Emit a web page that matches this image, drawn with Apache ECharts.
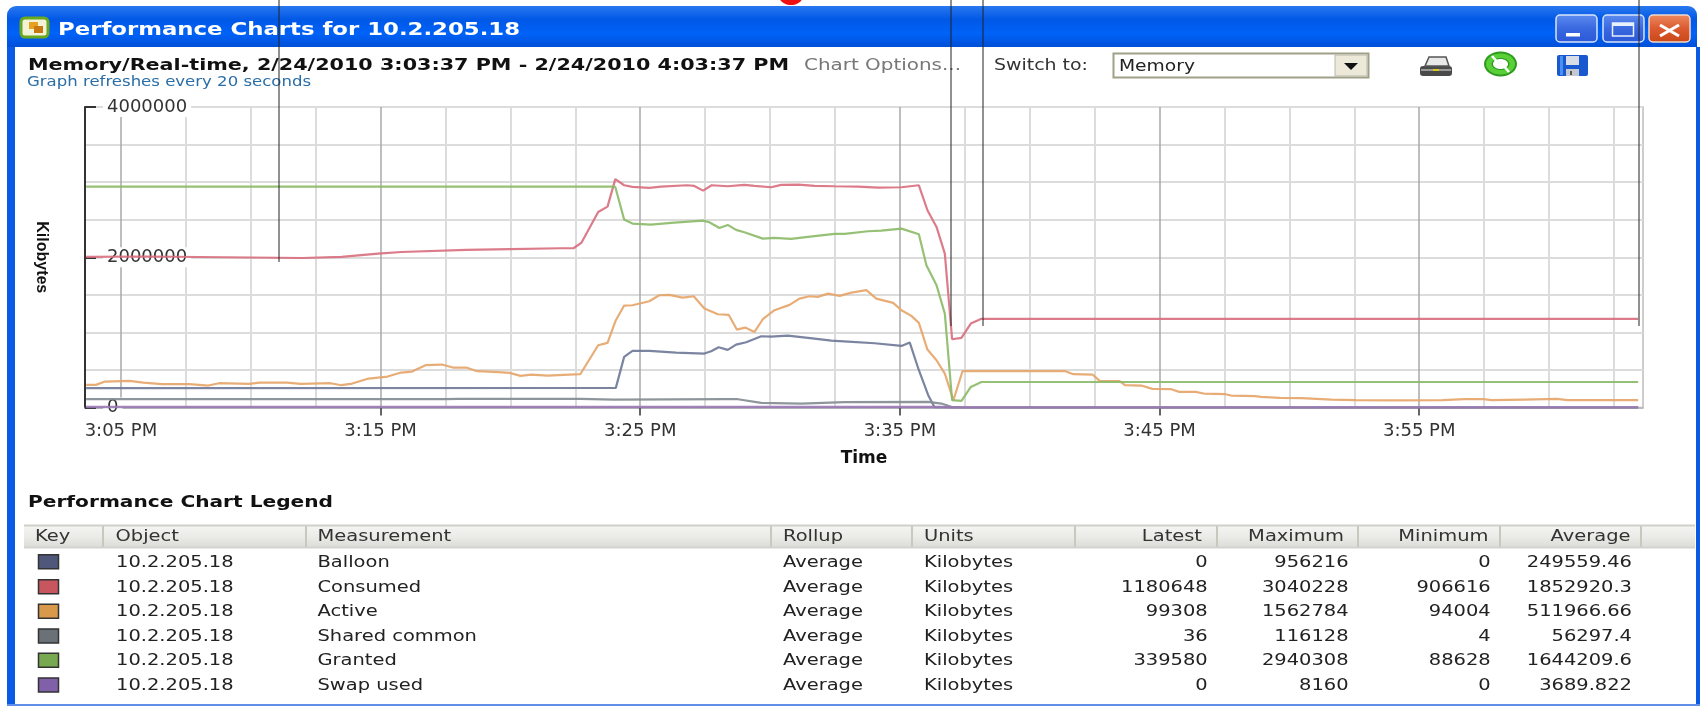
<!DOCTYPE html>
<html>
<head>
<meta charset="utf-8">
<title>Performance Charts</title>
<style>
    html, body { margin: 0; padding: 0; background: #fff; }
    #chart { width: 1700px; height: 706px; }
</style>
<script src="https://cdn.jsdelivr.net/npm/echarts@6/dist/echarts.min.js"></script>
</head>
<body>
<div id="chart"></div>
<script>
// x values are minutes after 3:00 PM, y values are kilobytes
const balloon = [[3.66, 256700], [24.06, 261000], [24.38, 673600], [24.7, 753400], [25.35, 753400], [26.38, 731200], [27.47, 717900], [27.73, 749000], [28.02, 802200], [28.37, 766700], [28.69, 837700], [29.08, 868700], [29.66, 948600], [30.04, 944200], [30.68, 956216], [31.46, 926400], [32.36, 890900], [33, 877600], [34.03, 855400], [35.06, 819900], [35.38, 864300], [35.73, 496100], [36.09, 163500], [36.34, 0], [63.43, 0]];
const consumed = [[3.66, 2004000], [6, 2010000], [9, 2000000], [12, 1990000], [13.5, 2005000], [14.9, 2049000], [15.8, 2070000], [18.3, 2097000], [20, 2108000], [21.94, 2119700], [22.43, 2119700], [22.74, 2195100], [23.38, 2603200], [23.74, 2674200], [24.04, 3040228], [24.38, 2958100], [24.7, 2935900], [25.35, 2922600], [25.8, 2940400], [26.8, 2958100], [27.08, 2949200], [27.42, 2887100], [27.75, 2958100], [28.37, 2944800], [29.01, 2962500], [29.4, 2949200], [30.04, 2931500], [30.43, 2962500], [31.1, 2967000], [31.71, 2949200], [32.48, 2944800], [33.38, 2940400], [34.16, 2927000], [35.06, 2931500], [35.73, 2958100], [36.06, 2625400], [36.41, 2403600], [36.73, 2048700], [37.01, 908600], [37.37, 926400], [37.73, 1117200], [38.14, 1180648], [63.43, 1180648]];
const active = [[3.66, 301100], [4.04, 301100], [4.39, 345500], [5.33, 354300], [5.86, 332100], [6.59, 310000], [7.63, 310000], [8.37, 292200], [8.78, 323300], [9.94, 314400], [10.35, 332100], [11.4, 332100], [11.92, 314400], [13.07, 323300], [13.49, 296700], [13.91, 318800], [14.54, 385400], [15.27, 412000], [15.79, 465200], [16.21, 478500], [16.73, 562800], [17.36, 571700], [17.78, 531800], [18.3, 531800], [18.72, 483000], [19.55, 469700], [19.97, 460800], [20.39, 420900], [20.81, 438600], [21.44, 425300], [22.69, 443000], [23.38, 828800], [23.74, 859900], [24.06, 1161500], [24.38, 1356700], [24.7, 1361100], [25.35, 1414500], [25.73, 1494200], [26.12, 1498700], [26.63, 1463100], [27.06, 1481000], [27.47, 1316800], [27.99, 1241400], [28.41, 1232500], [28.72, 1037300], [29.04, 1063900], [29.4, 1006300], [29.72, 1174800], [30.17, 1294600], [30.75, 1365600], [31.13, 1449900], [31.52, 1481000], [31.84, 1472000], [32.23, 1516400], [32.68, 1485300], [33.13, 1529700], [33.71, 1562784], [34.09, 1449900], [34.74, 1392200], [35.06, 1294600], [35.44, 1219200], [35.73, 1126000], [36.06, 771200], [36.41, 629200], [36.73, 451800], [37.06, 96900], [37.41, 483000], [41.37, 483000], [41.68, 443000], [42.42, 438600], [42.69, 354300], [43.46, 349900], [43.67, 296700], [44.3, 292200], [44.72, 247900], [45.45, 243400], [45.76, 207900], [46.39, 207900], [46.7, 185800], [47.54, 176900], [47.75, 159200], [48.69, 150300], [48.9, 141400], [49.63, 128100], [50.47, 123600], [51.62, 105900], [52.56, 97000], [54, 94004], [55.9, 97000], [56.74, 110300], [57.47, 110300], [57.79, 97000], [59.04, 105900], [60.3, 114800], [60.71, 97000], [63.43, 99308]];
const sharedCommon = [[3.66, 110400], [17.5, 110400], [18, 116128], [22.7, 116128], [24, 106000], [28.3, 110200], [28.76, 110200], [29.66, 61400], [31.2, 52500], [32.87, 70300], [36.09, 74700], [36.6, 52500], [36.98, 8000], [37.4, 36], [63.43, 36]];
const granted = [[3.66, 2940308], [23.87, 2940308], [24.04, 2936000], [24.38, 2501200], [24.7, 2448000], [25.41, 2434700], [26.31, 2461300], [27.42, 2487900], [27.66, 2465700], [28.05, 2390300], [28.37, 2430200], [28.69, 2363700], [29.01, 2332600], [29.72, 2248300], [30.17, 2257200], [30.81, 2243900], [31.46, 2270500], [32.48, 2310400], [32.87, 2310400], [33.77, 2345900], [34.28, 2354800], [35.06, 2381400], [35.73, 2306000], [36.02, 1893500], [36.41, 1627300], [36.73, 1250200], [37.01, 96900], [37.37, 88628], [37.73, 274300], [38.14, 339580], [63.43, 339580]];
const swapUsed = [[3.66, 8160], [36.6, 8160], [37, 0], [63.43, 0]];

const timeStart = 3.617;
const timeEnd = 63.617;
const majorMinutes = [5, 15, 25, 35, 45, 55];
const majorLabels = ['3:05 PM', '3:15 PM', '3:25 PM', '3:35 PM', '3:45 PM', '3:55 PM'];
const minorMinutes = [7.5, 10, 12.5, 17.5, 20, 22.5, 27.5, 30, 32.5, 37.5, 40, 42.5, 47.5, 50, 52.5, 57.5, 60, 62.5];

// legend table
const tableHeaders = ['Key', 'Object', 'Measurement', 'Rollup', 'Units', 'Latest', 'Maximum', 'Minimum', 'Average'];
const measurements = ['Balloon', 'Consumed', 'Active', 'Shared common', 'Granted', 'Swap used'];
const latestValues = ['0', '1180648', '99308', '36', '339580', '0'];
const maximumValues = ['956216', '3040228', '1562784', '116128', '2940308', '8160'];
const minimumValues = ['0', '906616', '94004', '4', '88628', '0'];
const averageValues = ['249559.46', '1852920.3', '511966.66', '56297.4', '1644209.6', '3689.822'];
const keyColors = ['#4f587a', '#c8565f', '#d89a4a', '#6a7278', '#78a850', '#8060a8'];
const lineColors = ['#6d7796', '#d86d7c', '#e6a468', '#838b90', '#8ab966', '#9a78b4'];

const bodyFont = '"DejaVu Sans"';
const measureCtx = document.createElement('canvas').getContext('2d');
const fitScale = (str, font, width) => {
    measureCtx.font = font;
    return width / measureCtx.measureText(str).width;
};
const cellSize = 15.5;
const cellScale = fitScale('10.2.205.18', cellSize + 'px ' + bodyFont, 117.6);

const text = (x, y, str, opt = {}) => ({
    type: 'text',
    x: x,
    y: y,
    z: 10,
    silent: true,
    scaleX: opt.width
        ? fitScale(str, (opt.weight || 'normal') + ' ' + (opt.size || cellSize) + 'px ' + bodyFont, opt.width)
        : (opt.scale || 1),
    style: {
        text: str,
        x: 0,
        y: 0,
        fill: opt.color || '#222',
        align: opt.align || 'left',
        verticalAlign: 'middle',
        fontFamily: bodyFont,
        fontSize: opt.size || cellSize,
        fontWeight: opt.weight || 'normal'
    }
});
const box = (x, y, w, h, fill, opt = {}) => ({
    type: 'rect',
    z: opt.z || 5,
    silent: true,
    shape: { x: x, y: y, width: w, height: h, r: opt.r || 0 },
    style: { fill: fill, stroke: opt.stroke || null, lineWidth: opt.lineWidth || 1 }
});
const line = (x1, y1, x2, y2, color, width, z) => ({
    type: 'line',
    z: z || 6,
    silent: true,
    shape: { x1: x1, y1: y1, x2: x2, y2: y2 },
    style: { stroke: color, lineWidth: width || 1 }
});
const oval = (cx, cy, rx, ry, fill, z) => ({
    type: 'ellipse',
    z: z || 6,
    silent: true,
    shape: { cx: cx, cy: cy, rx: rx, ry: ry },
    style: { fill: fill }
});
const vGrad = (stops) => new echarts.graphic.LinearGradient(0, 0, 0, 1, stops.map((c, i) => ({ offset: i / (stops.length - 1), color: c })));

const buildWindow = () => {
    const items = [];
    // frame and title bar
    items.push(box(7, 6, 1690, 41, vGrad(['#2a78f0', '#0058e6', '#0062f8', '#0050d8']), { r: [9, 9, 0, 0] }));
    items.push(box(7, 47, 8, 659, '#0a5ae6'));
    items.push(box(1696, 47, 4, 659, '#0a5ae6'));
    items.push(box(7, 704, 1693, 2, '#5f8fe8'));
    items.push(text(58, 30, 'Performance Charts for 10.2.205.18', { color: '#fff', size: 18, weight: 'bold', width: 462 }));
    // vmware icon
    items.push(box(21, 18, 27, 19, '#f2f2d8', { r: 4, stroke: '#6aa81e', lineWidth: 3 }));
    items.push(box(29, 22, 9, 7, '#e8a020'));
    items.push(box(34, 26, 9, 7, '#c87810'));
    // window buttons
    const btnFill = vGrad(['#5d8cf0', '#3a68e0', '#2a58d8']);
    items.push(box(1556, 15, 41, 27, btnFill, { r: 4, stroke: '#d8e4fa', lineWidth: 1.5 }));
    items.push(box(1566, 33, 14, 3.5, '#fff'));
    items.push(box(1603, 15, 41, 27, btnFill, { r: 4, stroke: '#d8e4fa', lineWidth: 1.5 }));
    items.push(box(1612.5, 23, 21, 13, null, { stroke: '#e8f0fc', lineWidth: 1.5 }));
    items.push(box(1612.5, 23, 21, 3, '#e8f0fc'));
    items.push(box(1649, 15, 41, 27, vGrad(['#ec8a60', '#dc5a30', '#c84818']), { r: 4, stroke: '#f4d8c8', lineWidth: 1.5 }));
    items.push(line(1660, 25, 1679, 36, '#fff', 3));
    items.push(line(1679, 25, 1660, 36, '#fff', 3));
    // toolbar
    items.push(text(28, 66, 'Memory/Real-time, 2/24/2010 3:03:37 PM - 2/24/2010 4:03:37 PM', { weight: 'bold', width: 761, color: '#111' }));
    items.push(text(27, 82.5, 'Graph refreshes every 20 seconds', { size: 13.5, width: 284, color: '#2a6ea8' }));
    items.push(text(804, 66, 'Chart Options...', { width: 157, color: '#777' }));
    items.push(text(994, 66, 'Switch to:', { width: 94, color: '#333' }));
    items.push(box(1113.5, 53.5, 255, 24, '#fff', { stroke: '#a0a088', lineWidth: 2 }));
    items.push(box(1335, 55, 32, 21, '#ece9d8', { stroke: '#b8b8a8' }));
    items.push({
        type: 'polygon', z: 6, silent: true,
        shape: { points: [[1344, 63], [1358, 63], [1351, 70]] },
        style: { fill: '#111' }
    });
    items.push(text(1119, 67, 'Memory', { width: 76, color: '#222' }));
    // printer
    items.push({
        type: 'polygon', z: 6, silent: true,
        shape: { points: [[1429, 57], [1446, 57], [1449, 66], [1425, 66]] },
        style: { fill: '#e8e8e8', stroke: '#555', lineWidth: 1.5 }
    });
    items.push(box(1420, 66, 32, 10, '#4a4a4a', { r: 3 }));
    items.push(box(1421, 69, 30, 2, '#999', { z: 6 }));
    items.push(box(1433, 69, 6, 2, '#d8c820', { z: 7 }));
    // refresh
    items.push(oval(1500.5, 64, 16.5, 12.5, '#2f9a1e', 6));
    items.push(oval(1500.5, 64, 14.5, 10.5, '#5ad038', 7));
    items.push(oval(1500.5, 64, 9, 6, '#2f9a1e', 8));
    items.push(oval(1500.5, 64, 7.5, 5, '#fff', 9));
    items.push(line(1492, 56, 1499, 64, '#fff', 2.5, 9));
    items.push(line(1509, 72, 1502, 64, '#fff', 2.5, 9));
    // save
    items.push(box(1557, 55, 31, 21, '#1a58d0', { r: 2 }));
    items.push(box(1560, 56, 3, 19, '#4a90f0', { z: 6 }));
    items.push(box(1566, 56, 13, 9, '#d8dce6', { z: 6 }));
    items.push(box(1566, 69, 13, 7, '#c4c8d0', { z: 6 }));
    items.push(box(1570, 71, 2, 4, '#555', { z: 7 }));
    // legend table
    items.push(text(28, 502.5, 'Performance Chart Legend', { weight: 'bold', width: 305, color: '#111' }));
    items.push(box(24, 526, 1671, 21, vGrad(['#f4f4f2', '#ebebe8', '#dcdcd8'])));
    items.push(line(24, 525.5, 1695, 525.5, '#cfcfca', 2));
    items.push(line(24, 547.5, 1695, 547.5, '#d4d4cf', 2));
    [103, 306, 771, 912, 1075, 1217, 1358, 1500, 1641].forEach(x => {
        items.push(line(x, 526, x, 547, '#c8c8bc', 2));
    });
    const headerX = [35, 115.5, 317.5, 783, 924, 1202, 1344, 1488.5, 1630.5];
    tableHeaders.forEach((h, i) => {
        items.push(text(headerX[i], 537, h, { align: i > 4 ? 'right' : 'left', scale: cellScale, color: '#333' }));
    });
    const rowY = [562.7, 587.7, 612.3, 637, 661.3, 686];
    measurements.forEach((m, i) => {
        const y = rowY[i];
        items.push(box(38.5, y - 8, 20, 14, keyColors[i], { stroke: '#333', lineWidth: 1.5 }));
        items.push(text(116, y, '10.2.205.18', { scale: cellScale }));
        items.push(text(317.5, y, m, { scale: cellScale }));
        items.push(text(783, y, 'Average', { scale: cellScale }));
        items.push(text(924, y, 'Kilobytes', { scale: cellScale }));
        items.push(text(1207.7, y, latestValues[i], { align: 'right', scale: cellScale }));
        items.push(text(1348.6, y, maximumValues[i], { align: 'right', scale: cellScale }));
        items.push(text(1490.7, y, minimumValues[i], { align: 'right', scale: cellScale }));
        items.push(text(1632, y, averageValues[i], { align: 'right', scale: cellScale }));
    });
    // black lines drawn over the screenshot
    items.push(line(279, 0, 279, 262, '#222', 1, 20));
    items.push(line(951, 0, 951, 326, '#222', 1, 20));
    items.push(line(983, 0, 983, 326, '#222', 1, 20));
    items.push(line(1639, 0, 1639, 326, '#222', 1, 20));
    // red shape cut by the top edge
    items.push(oval(791, -3, 11.5, 8, '#f01010', 20));
    return items;
};

const seriesLine = (name, data, index, width) => ({
    name: name,
    type: 'line',
    data: data,
    showSymbol: false,
    silent: true,
    animation: false,
    lineStyle: { color: lineColors[index], width: width || 2.2, opacity: 0.9 },
    itemStyle: { color: lineColors[index] }
});

const chart = echarts.init(document.getElementById('chart'));
chart.setOption({
    animation: false,
    backgroundColor: '#fff',
    grid: {
        left: 85,
        top: 107,
        width: 1558,
        height: 300.5,
        show: true,
        borderColor: '#bdbdbd',
        borderWidth: 1.5,
        backgroundColor: 'transparent'
    },
    xAxis: [{
        type: 'value',
        min: timeStart,
        max: timeEnd,
        name: 'Time',
        nameLocation: 'middle',
        nameGap: 43,
        nameTextStyle: { fontFamily: bodyFont, fontWeight: 'bold', fontSize: 17, color: '#111' },
        axisLine: { onZero: false, lineStyle: { color: '#b0b0b0', width: 1.5 } },
        axisTick: { show: true, customValues: majorMinutes, length: 8, lineStyle: { color: '#333', width: 1.5 } },
        axisLabel: {
            customValues: majorMinutes,
            margin: 15,
            color: '#333',
            fontFamily: bodyFont,
            fontSize: 18,
            formatter: (v) => majorLabels[majorMinutes.indexOf(v)]
        },
        splitLine: { show: true, lineStyle: { color: '#a8a8a8', width: 1.5 } }
    }, {
        type: 'value',
        position: 'bottom',
        min: timeStart,
        max: timeEnd,
        axisLine: { show: false },
        axisTick: { show: false, customValues: minorMinutes },
        axisLabel: { show: false },
        splitLine: { show: true, lineStyle: { color: '#dcdcdc', width: 2 } }
    }],
    yAxis: [{
        type: 'value',
        min: 0,
        max: 4000000,
        interval: 2000000,
        name: 'Kilobytes',
        nameLocation: 'middle',
        nameRotate: -90,
        nameGap: 36,
        nameTextStyle: { fontFamily: '"Liberation Sans"', fontWeight: 'bold', fontSize: 16, color: '#111' },
        axisLine: { show: true, onZero: false, lineStyle: { color: '#333', width: 2 } },
        axisTick: { show: true, inside: true, length: 11, lineStyle: { color: '#333', width: 2 } },
        axisLabel: {
            inside: true,
            margin: 18,
            color: '#333',
            fontFamily: bodyFont,
            fontSize: 18,
            backgroundColor: '#fff',
            padding: [2, 4, 0, 4],
            formatter: (v) => String(v)
        },
        splitLine: { show: true, lineStyle: { color: '#ababab', width: 1.5 } }
    }, {
        type: 'value',
        position: 'left',
        min: 0,
        max: 4000000,
        interval: 500000,
        axisLine: { show: false },
        axisTick: { show: false },
        axisLabel: { show: false },
        splitLine: { show: true, lineStyle: { color: '#dcdcdc', width: 2 } }
    }],
    series: [
        seriesLine('Balloon', balloon, 0),
        seriesLine('Consumed', consumed, 1),
        seriesLine('Active', active, 2),
        seriesLine('Shared common', sharedCommon, 3),
        seriesLine('Granted', granted, 4),
        seriesLine('Swap used', swapUsed, 5, 2.5)
    ],
    graphic: { elements: buildWindow() }
});
</script>
</body>
</html>
